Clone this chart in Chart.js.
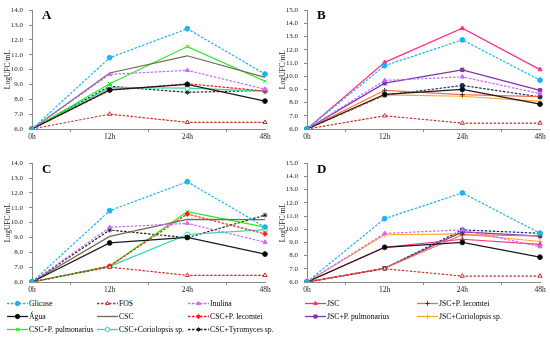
<!DOCTYPE html>
<html><head><meta charset="utf-8">
<script src="https://cdn.jsdelivr.net/npm/chart.js@4.4.1/dist/chart.umd.min.js"></script>
<style>
html,body{margin:0;padding:0;background:#fff;width:550px;height:338px;overflow:hidden;font-family:"Liberation Serif","DejaVu Serif",serif;}
.c{position:absolute;}
.lt{position:absolute;font-size:13px;font-weight:bold;font-family:"Liberation Serif",serif;color:#000;}
.leg{position:absolute;height:12px;display:flex;align-items:center;font-size:7.7px;color:#000;white-space:nowrap;}
.leg canvas{margin-right:1px;}
</style></head><body>
<canvas id="cA" class="c" style="left:0;top:0" width="275" height="142"></canvas>
<canvas id="cB" class="c" style="left:275px;top:0" width="275" height="142"></canvas>
<canvas id="cC" class="c" style="left:0;top:153px" width="275" height="142"></canvas>
<canvas id="cD" class="c" style="left:275px;top:153px" width="275" height="142"></canvas>
<div class="lt" style="left:42px;top:7px">A</div>
<div class="lt" style="left:317px;top:7px">B</div>
<div class="lt" style="left:42px;top:161px">C</div>
<div class="lt" style="left:317px;top:161px">D</div>
<div id="legends"></div>
<script>
// ---- data ----
const categories = ['0h','12h','24h','48h'];
// control series (same in every panel)
const glicose = [6.0, 10.8, 12.75, 9.7];
const fos     = [6.0, 7.0, 6.45, 6.45];
const inulina = [6.0, 9.68, 9.95, 8.68];
const agua    = [6.0, 8.63, 9.0, 7.88];
// panel A
const cscA         = [6.0, 9.77, 10.93, 9.48];
const lecomteiA    = [6.0, 8.6, 9.05, 8.55];
const pulmonariusA = [6.0, 9.05, 11.55, 9.22];
const coriolopsisA = [6.0, 8.78, 8.75, 8.55];
const tyromycesA   = [6.0, 8.88, 8.47, 8.6];
// panel B
const jscB            = [6.0, 11.05, 13.63, 10.5];
const jscLecomteiB    = [6.0, 8.93, 8.6, 8.45];
const jscPulmonariusB = [6.0, 9.47, 10.48, 8.93];
const jscCoriolopsisB = [6.0, 8.58, 8.48, 8.1];
const jscTyromycesB   = [6.0, 8.56, 9.3, 8.43];
// panel C
const cscC         = [6.0, 9.07, 10.22, 10.2];
const lecomteiC    = [6.0, 7.07, 10.58, 9.24];
const pulmonariusC = [6.0, 7.07, 10.73, 9.69];
const coriolopsisC = [6.0, 7.05, 9.2, 9.53];
const tyromycesC   = [6.0, 9.5, 8.98, 10.5];
// panel D
const jscD            = [6.0, 8.62, 9.24, 8.85];
const jscLecomteiD    = [6.0, 7.04, 9.58, 9.5];
const jscPulmonariusD = [6.0, 7.04, 9.8, 9.47];
const jscCoriolopsisD = [6.0, 9.58, 9.64, 9.07];
const jscTyromycesD   = [6.0, 7.04, 9.95, 9.69];
const yTicksAC = [6,7,8,9,10,11,12,13,14];
const yTicksBD = [6,7,8,9,10,11,12,13,14,15];

// ---- styles ----
const ST = {
  glicose:{label:'Glicose',color:'#1DB2F0',dash:[2.5,1.5],pt:'circle',bg:'#1DB2F0'},
  fos:{label:'FOS',color:'#C0302A',dash:[2.5,1.5],pt:'triangle',bg:'#ffffff'},
  inulina:{label:'Inulina',color:'#CC66FF',dash:[2.5,1.5],pt:'triangle',bg:'#CC66FF'},
  agua:{label:'Água',color:'#1a1a1a',dash:[],pt:'circle',bg:'#000'},
  csc:{label:'CSC',color:'#6F6A52',dash:[],pt:false},
  lecomtei:{label:'CSC+P. lecomtei',color:'#FF1A1A',dash:[2.5,1.5],pt:'rectRot',bg:'#FF1A1A'},
  pulmonarius:{label:'CSC+P. pulmonarius',color:'#22EE22',dash:[],pt:'crossRot',bg:'#22EE22'},
  coriolopsis:{label:'CSC+Coriolopsis sp.',color:'#2ED9A6',dash:[],pt:'circle',bg:'#ffffff'},
  tyromyces:{label:'CSC+Tyromyces sp.',color:'#222',dash:[2.5,1.5],pt:'star',bg:'#222'},
  jsc:{label:'JSC',color:'#FF2D8A',dash:[],pt:'triangle',bg:'#FF2D8A'},
  jscLecomtei:{label:'JSC+P. lecomtei',color:'#FF6A45',dash:[],pt:'cross',bg:'#333',pb:'#333'},
  jscPulmonarius:{label:'JSC+P. pulmonarius',color:'#7A35A8',dash:[],pt:'rect',bg:'#7A35A8'},
  jscCoriolopsis:{label:'JSC+Coriolopsis sp.',color:'#FFA726',dash:[],pt:'cross',bg:'#FFA726'},
  jscTyromyces:{label:'JSC+Tyromyces sp.',color:'#0F2A66',dash:[2.5,1.5],pt:'rect',bg:'#0F2A66'}
};

function ds(key,data){
  const s=ST[key];
  return {label:s.label,data:data,borderColor:s.color,borderWidth:1.2,borderDash:s.dash,
    pointStyle:s.pt||'circle',pointRadius:s.pt?2.4:0,pointBackgroundColor:s.bg||s.color,
    pointBorderColor:s.pb||s.color,pointBorderWidth:1,tension:0,fill:false};
}

function makeChart(id,datasets,ticks){
  const ymax=ticks[ticks.length-1];
  new Chart(document.getElementById(id),{
    type:'line',
    data:{labels:categories,datasets:datasets},
    options:{
      responsive:false,animation:false,devicePixelRatio:1,
      layout:{padding:{top:9,right:10,left:0,bottom:0}},
      plugins:{legend:{display:false},tooltip:{enabled:false}},
      scales:{
        x:{offset:false,
          grid:{display:true,drawOnChartArea:false,drawTicks:true,tickLength:3,offset:true,color:'#888'},
          border:{display:true,color:'#888',width:1},
          ticks:{color:'#222',font:{family:'Liberation Serif',size:7.5},padding:1,maxRotation:0,autoSkip:false},
          afterFit:(s)=>{s.height=13;}
        },
        y:{min:6,max:ymax,
          afterBuildTicks:(s)=>{s.ticks=ticks.map(v=>({value:v}));},
          grid:{display:true,drawOnChartArea:false,drawTicks:true,tickLength:3,color:'#888'},
          border:{display:true,color:'#888',width:1},
          ticks:{color:'#222',font:{family:'Liberation Serif',size:7},padding:6,callback:(v)=>Number(v).toFixed(1)},
          title:{display:true,text:'LogUFC/mL',color:'#222',font:{family:'Liberation Serif',size:7.5},padding:{top:4,bottom:0}},
          afterFit:(s)=>{s.width=32;}
        }
      }
    }
  });
}

makeChart('cA',[ds('glicose',glicose),ds('fos',fos),ds('inulina',inulina),ds('agua',agua),ds('csc',cscA),
  ds('lecomtei',lecomteiA),ds('pulmonarius',pulmonariusA),ds('coriolopsis',coriolopsisA),ds('tyromyces',tyromycesA)],yTicksAC);
makeChart('cB',[ds('glicose',glicose),ds('fos',fos),ds('inulina',inulina),ds('agua',agua),ds('jsc',jscB),
  ds('jscLecomtei',jscLecomteiB),ds('jscPulmonarius',jscPulmonariusB),ds('jscCoriolopsis',jscCoriolopsisB),ds('jscTyromyces',jscTyromycesB)],yTicksBD);
makeChart('cC',[ds('glicose',glicose),ds('fos',fos),ds('inulina',inulina),ds('agua',agua),ds('csc',cscC),
  ds('lecomtei',lecomteiC),ds('pulmonarius',pulmonariusC),ds('coriolopsis',coriolopsisC),ds('tyromyces',tyromycesC)],yTicksAC);
makeChart('cD',[ds('glicose',glicose),ds('fos',fos),ds('inulina',inulina),ds('agua',agua),ds('jsc',jscD),
  ds('jscLecomtei',jscLecomteiD),ds('jscPulmonarius',jscPulmonariusD),ds('jscCoriolopsis',jscCoriolopsisD),ds('jscTyromyces',jscTyromycesD)],yTicksBD);

// ---- legends ----
const legendItems = [
  ['glicose',7,303],['fos',97,303],['inulina',188,303],
  ['agua',7,316],['csc',97,316],['lecomtei',188,316],
  ['pulmonarius',7,329],['coriolopsis',97,329],['tyromyces',188,329],
  ['jsc',305,303],['jscLecomtei',417,303],
  ['jscPulmonarius',305,316],['jscCoriolopsis',417,316]
];
const host=document.getElementById('legends');
legendItems.forEach(([key,x,y])=>{
  const s=ST[key];
  const d=document.createElement('div');d.className='leg';d.style.left=x+'px';d.style.top=(y-6)+'px';
  const cv=document.createElement('canvas');cv.width=21;cv.height=12;
  const ctx=cv.getContext('2d');
  ctx.strokeStyle=s.color;ctx.lineWidth=1.3;ctx.setLineDash(s.dash);
  ctx.beginPath();ctx.moveTo(0,6.5);ctx.lineTo(21,6.5);ctx.stroke();ctx.setLineDash([]);
  if(s.pt){
    ctx.fillStyle=s.bg||s.color;ctx.strokeStyle=s.pb||s.color;ctx.lineWidth=1;
    Chart.helpers.drawPoint(ctx,{pointStyle:s.pt,radius:2.2,rotation:0,borderWidth:1},10.5,6.5);
  }
  d.appendChild(cv);
  const t=document.createElement('span');t.textContent=s.label;d.appendChild(t);
  host.appendChild(d);
});
</script>
</body></html>
